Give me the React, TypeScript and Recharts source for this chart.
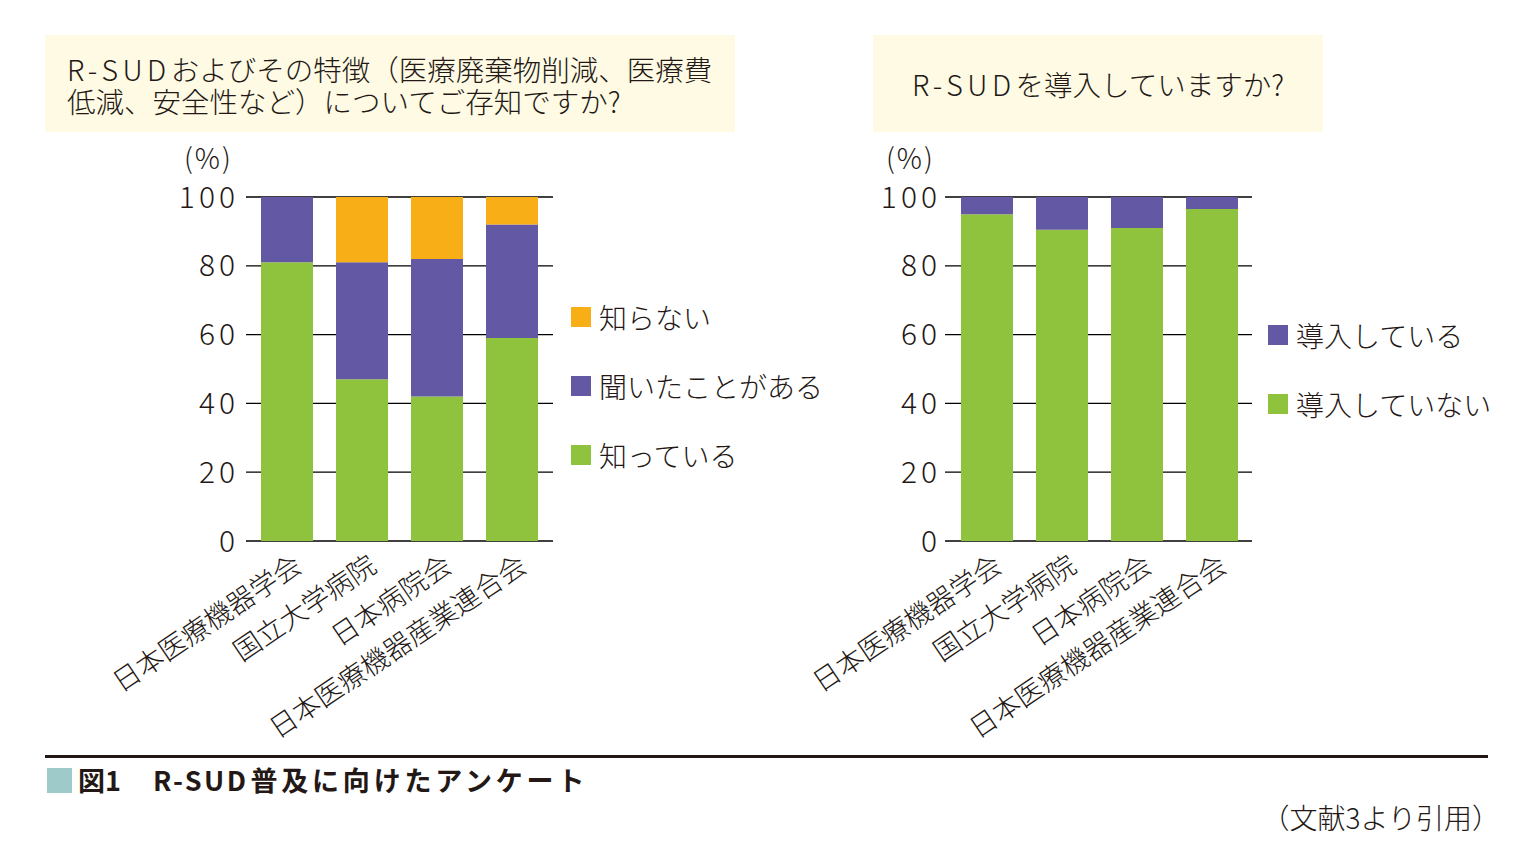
import { BarChart, Bar, XAxis, YAxis, CartesianGrid, Legend } from 'recharts';

const categories = ['日本医療機器学会', '国立大学病院', '日本病院会', '日本医療機器産業連合会'];

// 左: R-SUDおよびその特徴についてご存知ですか?
const knows = [81, 47, 42, 59];
const heard = [19, 34, 40, 33];
const unknown = [0, 19, 18, 8];

// 右: R-SUDを導入していますか?
const notAdopted = [95, 90.5, 91, 96.5];
const adopted = [5, 9.5, 9, 3.5];

const yTicks = [0, 20, 40, 60, 80, 100];

const GREEN = '#8fc33e';
const PURPLE = '#6358a3';
const ORANGE = '#f7ae17';
const INK = '#231815';
const CREAM = '#fefae4';
const FONT = '"Noto Sans CJK JP", "Noto Sans", sans-serif';

const leftData = categories.map((name, i) => ({
  name,
  knows: knows[i],
  heard: heard[i],
  unknown: unknown[i],
}));

const rightData = categories.map((name, i) => ({
  name,
  notAdopted: notAdopted[i],
  adopted: adopted[i],
}));

const leftLegend = [
  { label: '知らない', color: ORANGE },
  { label: '聞いたことがある', color: PURPLE },
  { label: '知っている', color: GREEN },
];

const rightLegend = [
  { label: '導入している', color: PURPLE },
  { label: '導入していない', color: GREEN },
];

const SlantTick = (props: any) => {
  const { x, y, payload } = props;
  return (
    <g transform={`translate(${x + 17},${y + 29})`}>
      <text textAnchor="end" transform="rotate(-34)" fontSize={27.5} fill={INK} fontFamily={FONT} fontWeight={300}>
        {payload.value}
      </text>
    </g>
  );
};

const legendContent = (items: { label: string; color: string }[]) => () => (
  <div style={{ fontFamily: FONT, fontWeight: 300 }}>
    {items.map((it) => (
      <div key={it.label} style={{ height: 69, display: 'flex', alignItems: 'center' }}>
        <span style={{ width: 20, height: 20, background: it.color, marginRight: 8, display: 'inline-block' }} />
        <span style={{ fontSize: 28, color: INK, whiteSpace: 'nowrap' }}>{it.label}</span>
      </div>
    ))}
  </div>
);

const yTick = { fontSize: 30, fill: INK, fontFamily: FONT, fontWeight: 300, letterSpacing: 4 };

const wide = { letterSpacing: 4.5 };

export default function App() {
  return (
    <div style={{ position: 'absolute', left: 0, top: 0, width: 1535, height: 856, background: '#fff', fontFamily: FONT, color: INK }}>
      {/* 設問ボックス */}
      <div style={{ position: 'absolute', left: 45, top: 35, width: 690, height: 97, background: CREAM, boxSizing: 'border-box', padding: '18px 0 0 22px', fontSize: 28.5, lineHeight: '32px', fontWeight: 300, whiteSpace: 'nowrap' }}>
        <span style={wide}>R-SUD</span>およびその特徴（医療廃棄物削減、医療費
        <br />
        低減、安全性など）についてご存知ですか?
      </div>
      <div style={{ position: 'absolute', left: 873, top: 35, width: 450, height: 97, background: CREAM, display: 'flex', alignItems: 'center', justifyContent: 'center', fontSize: 28.5, fontWeight: 300, whiteSpace: 'nowrap' }}>
        <span style={wide}>R-SUD</span>を導入していますか?
      </div>

      <div style={{ position: 'absolute', left: 184, top: 137, fontSize: 28, fontWeight: 300, letterSpacing: 2 }}>(%)</div>
      <div style={{ position: 'absolute', left: 886, top: 137, fontSize: 28, fontWeight: 300, letterSpacing: 2 }}>(%)</div>

      <div style={{ position: 'absolute', left: 100, top: 150 }}>
        <BarChart width={760} height={620} data={leftData} margin={{ top: 47, right: 307, left: 0, bottom: 29 }}>
          <CartesianGrid vertical={false} stroke="#000" strokeWidth={1.3} />
          <XAxis dataKey="name" axisLine={false} tickLine={false} tickSize={0} tickMargin={0} height={200} interval={0} padding={{ left: 3, right: 4 }} tick={<SlantTick />} />
          <YAxis domain={[0, 100]} ticks={yTicks} width={146} axisLine={false} tickLine={false} tickSize={0} tickMargin={7} tick={yTick} />
          <Legend layout="vertical" align="center" verticalAlign="middle" wrapperStyle={{ left: 471, top: 132, width: 300 }} content={legendContent(leftLegend)} />
          <Bar dataKey="knows" stackId="a" fill={GREEN} barSize={52} isAnimationActive={false} />
          <Bar dataKey="heard" stackId="a" fill={PURPLE} barSize={52} isAnimationActive={false} />
          <Bar dataKey="unknown" stackId="a" fill={ORANGE} barSize={52} isAnimationActive={false} />
        </BarChart>
      </div>

      <div style={{ position: 'absolute', left: 780, top: 150 }}>
        <BarChart width={755} height={620} data={rightData} margin={{ top: 47, right: 283, left: 0, bottom: 29 }}>
          <CartesianGrid vertical={false} stroke="#000" strokeWidth={1.3} />
          <XAxis dataKey="name" axisLine={false} tickLine={false} tickSize={0} tickMargin={0} height={200} interval={0} padding={{ left: 4, right: 3 }} tick={<SlantTick />} />
          <YAxis domain={[0, 100]} ticks={yTicks} width={165} axisLine={false} tickLine={false} tickSize={0} tickMargin={4} tick={yTick} />
          <Legend layout="vertical" align="center" verticalAlign="middle" wrapperStyle={{ left: 488, top: 150, width: 260 }} content={legendContent(rightLegend)} />
          <Bar dataKey="notAdopted" stackId="b" fill={GREEN} barSize={52} isAnimationActive={false} />
          <Bar dataKey="adopted" stackId="b" fill={PURPLE} barSize={52} isAnimationActive={false} />
        </BarChart>
      </div>

      {/* キャプション */}
      <div style={{ position: 'absolute', left: 45, top: 755, width: 1443, height: 3, background: INK }} />
      <div style={{ position: 'absolute', left: 47, top: 768, width: 25, height: 25, background: '#9ecaca' }} />
      <div style={{ position: 'absolute', left: 78, top: 763, fontSize: 27, fontWeight: 700, lineHeight: '34px', whiteSpace: 'nowrap' }}>
        図1
        <span style={{ marginLeft: 32, letterSpacing: 2.5 }}>R-SUD</span>
        <span style={{ letterSpacing: 3.8, marginLeft: 2 }}>普及に向けたアンケート</span>
      </div>
      <div style={{ position: 'absolute', right: 1535 - 1500, top: 800, fontSize: 28, fontWeight: 300, lineHeight: '34px', whiteSpace: 'nowrap' }}>
        （文献3より引用）
      </div>
    </div>
  );
}
